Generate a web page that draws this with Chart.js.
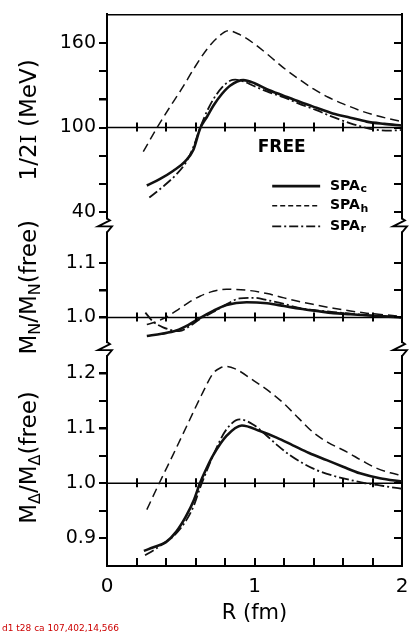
<!DOCTYPE html>
<html><head><meta charset="utf-8">
<script src="https://cdn.jsdelivr.net/npm/chart.js@4.4.0/dist/chart.umd.min.js"></script>
<style>html,body{margin:0;padding:0;background:#fff;}#wrap{width:409px;height:634px;}</style>
</head><body><div id="wrap"><canvas id="c" width="409" height="634"></canvas></div>
<script>
const errs = [];
window.addEventListener('error', e => errs.push(String(e.message)));
// ---------- data ----------
const xTickLabels = [0, 1, 2];
const xTickStep = 0.2;
const topTickLabels = [40, 100, 160];
const midTickLabels = [1.0, 1.1];
const botTickLabels = [0.9, 1.0, 1.1, 1.2];
const freeLevels = [100, 1.0, 1.0];
const legendNames = ['SPA', 'SPA', 'SPA'];
const legendSubs = ['c', 'h', 'r'];

// panel 1: 1/2I (MeV)
const rCTop = [0.27, 0.36, 0.45, 0.53, 0.585, 0.632, 0.68, 0.723, 0.78, 0.834, 0.924, 1.0, 1.08, 1.2, 1.31, 1.42, 1.53, 1.65, 1.76, 1.88, 2.0];
const vCTop = [58.8, 63.5, 69.3, 76, 84, 99.5, 108, 115.8, 124, 129.7, 133.7, 131.5, 127.4, 122.5, 118.1, 114, 110, 107, 104.2, 102.6, 101.4];
const rHTop = [0.246, 0.34, 0.42, 0.506, 0.59, 0.675, 0.75, 0.823, 0.9, 0.992, 1.1, 1.195, 1.3, 1.4, 1.5, 1.625, 1.73, 1.83, 1.92, 2.0];
const vHTop = [82.8, 100, 113.5, 127.4, 142, 155.3, 164, 168.8, 166, 160, 151, 142.6, 134.5, 127.4, 121.5, 115.8, 111.5, 108.4, 106, 104.2];
const rRTop = [0.287, 0.38, 0.472, 0.54, 0.585, 0.632, 0.68, 0.723, 0.78, 0.834, 0.87, 0.92, 0.992, 1.1, 1.195, 1.3, 1.42, 1.53, 1.65, 1.75, 1.83, 1.92, 2.0];
const vRTop = [50.2, 58, 66.9, 76, 86, 100, 112, 120.4, 128.5, 133.2, 134, 133, 129.7, 125, 121.6, 117, 112.3, 107.5, 103, 100, 98.3, 97.8, 98.3];

// panel 2: M_N / M_N(free)
const rCMid = [0.27, 0.37, 0.47, 0.55, 0.63, 0.72, 0.81, 0.947, 1.085, 1.2, 1.31, 1.42, 1.535, 1.65, 1.76, 1.88, 2.0];
const vCMid = [0.966, 0.970, 0.976, 0.986, 0.999, 1.012, 1.023, 1.028, 1.026, 1.021, 1.016, 1.012, 1.008, 1.006, 1.004, 1.002, 1.0];
const rHMid = [0.27, 0.33, 0.39, 0.48, 0.55, 0.63, 0.72, 0.81, 0.95, 1.085, 1.2, 1.31, 1.42, 1.535, 1.65, 1.76, 1.88, 2.0];
const vHMid = [0.987, 0.992, 0.999, 1.014, 1.027, 1.039, 1.048, 1.052, 1.050, 1.044, 1.036, 1.029, 1.023, 1.017, 1.012, 1.008, 1.005, 1.002];
const rRMid = [0.26, 0.31, 0.38, 0.49, 0.56, 0.63, 0.72, 0.81, 0.9, 1.0, 1.085, 1.2, 1.31, 1.42, 1.535, 1.65, 1.76, 1.88, 2.0];
const vRMid = [1.009, 0.993, 0.982, 0.975, 0.984, 0.997, 1.01, 1.024, 1.035, 1.036, 1.032, 1.025, 1.017, 1.013, 1.01, 1.007, 1.004, 1.002, 1.0];

// panel 3: M_Delta / M_Delta(free)
const rCBot = [0.25, 0.32, 0.40, 0.47, 0.536, 0.59, 0.63, 0.68, 0.72, 0.81, 0.914, 1.037, 1.15, 1.26, 1.37, 1.49, 1.6, 1.715, 1.85, 2.0];
const vCBot = [0.877, 0.884, 0.893, 0.912, 0.94, 0.97, 1.0, 1.03, 1.051, 1.086, 1.105, 1.095, 1.083, 1.069, 1.055, 1.042, 1.03, 1.018, 1.009, 1.003];
const rHBot = [0.27, 0.354, 0.45, 0.551, 0.64, 0.72, 0.77, 0.81, 0.87, 0.99, 1.1, 1.195, 1.3, 1.4, 1.5, 1.625, 1.73, 1.83, 1.92, 2.0];
const vHBot = [0.952, 1.0, 1.053, 1.110, 1.16, 1.2, 1.21, 1.2125, 1.208, 1.1875, 1.167, 1.146, 1.118, 1.092, 1.074, 1.057, 1.041, 1.027, 1.019, 1.014];
const rRBot = [0.258, 0.32, 0.38, 0.46, 0.536, 0.59, 0.63, 0.68, 0.72, 0.81, 0.9, 0.99, 1.085, 1.16, 1.24, 1.33, 1.42, 1.53, 1.65, 1.75, 1.83, 1.92, 2.0];
const vRBot = [0.869, 0.879, 0.89, 0.906, 0.932, 0.96, 0.991, 1.025, 1.051, 1.098, 1.116, 1.107, 1.086, 1.068, 1.051, 1.036, 1.024, 1.014, 1.006, 1.0, 0.997, 0.993, 0.99];

// ---------- styles ----------
const FONT = 'DejaVu Sans';
const INK = '#111';
const styleC = {borderWidth: 2.6, borderDash: []};
const styleH = {borderWidth: 1.5, borderDash: [9, 5]};
const styleR = {borderWidth: 1.8, borderDash: [10, 3, 2, 3]};
const panelTicks = [
  {id: 'yTop', step: 20, lo: 40, hi: 160},
  {id: 'yMid', step: 0.05, lo: 1.0, hi: 1.1},
  {id: 'yBot', step: 0.05, lo: 0.9, hi: 1.2}
];

function pts(r, v) { return r.map((x, i) => ({x: x, y: v[i]})); }
function ds(r, v, st, yid) {
  return Object.assign({
    type: 'line', data: pts(r, v), yAxisID: yid, xAxisID: 'x',
    borderColor: INK, pointRadius: 0, fill: false, cubicInterpolationMode: 'monotone'
  }, st);
}
const near = (a, b) => Math.abs(a - b) < 1e-6;

function leftAxis(min, max, weight, step, lo, hi, labels, digits) {
  return {
    type: 'linear', position: 'left', stack: 'L', stackWeight: weight, min: min, max: max,
    ticks: {
      stepSize: step, includeBounds: false, autoSkip: false, padding: 3, color: '#000',
      font: {family: FONT, size: 19},
      callback: (v) => labels.some(l => near(l, v)) ? v.toFixed(digits) : ''
    },
    afterBuildTicks: s => { s.ticks = s.ticks.filter(t => t.value >= lo - 1e-9 && t.value <= hi + 1e-9); },
    grid: {drawOnChartArea: false, drawTicks: true, tickLength: 8, color: '#000', lineWidth: 1.5},
    border: {display: true, color: '#000', width: 2},
    afterFit: s => { s.width = 107; }
  };
}
function rightAxis(min, max, weight) {
  return {
    type: 'linear', position: 'right', stack: 'R', stackWeight: weight, min: min, max: max,
    ticks: {display: false},
    grid: {display: false},
    border: {display: true, color: '#000', width: 2},
    afterFit: s => { s.width = 7; }
  };
}

const panelTitles = {
  yTop: [{t: '1/2'}, {t: 'I', serif: true}, {t: ' (MeV)'}],
  yMid: [{t: 'M'}, {t: 'N', sub: true}, {t: '/M'}, {t: 'N', sub: true}, {t: '(free)'}],
  yBot: [{t: 'M'}, {t: 'Δ', sub: true}, {t: '/M'}, {t: 'Δ', sub: true}, {t: '(free)'}]
};

function seg(ctx, x1, y1, x2, y2) { ctx.beginPath(); ctx.moveTo(x1, y1); ctx.lineTo(x2, y2); ctx.stroke(); }
let drawCount = 0, tickCount = 0;

const decor = {
  id: 'decor',
  beforeDatasetsDraw(chart) {
    const ctx = chart.ctx, ca = chart.chartArea;
    ctx.save();
    ctx.setLineDash([]);
    ctx.strokeStyle = '#000'; ctx.lineWidth = 1.5;
    ['yTop', 'yMid', 'yBot'].forEach((id, k) => {
      const y = chart.scales[id].getPixelForValue(freeLevels[k]);
      seg(ctx, ca.left, y, ca.right, y);
    });
    ctx.restore();
  },
  afterDraw(chart) {
    drawCount++;
    const ctx = chart.ctx, ca = chart.chartArea, xs = chart.scales.x;
    const sT = chart.scales.yTop, sM = chart.scales.yMid;
    ctx.save();
    ctx.setLineDash([]);
    // tick marks
    try {
      ctx.fillStyle = '#000';
      const nX = Math.round((xs.max - xs.min) / xTickStep);
      for (let k = 0; k <= nX; k++) {
        const px = Math.round(xs.getPixelForValue(xs.min + k * xTickStep));
        ctx.fillRect(px - 1, ca.bottom - 8, 2, 8); tickCount++;
        if (k > 0 && k < nX) {
          ['yTop', 'yMid', 'yBot'].forEach((id, j) => {
            const y = chart.scales[id].getPixelForValue(freeLevels[j]);
            ctx.fillRect(px - 1, y - 5, 2, 9);
          });
        }
      }
      panelTicks.forEach(p => {
        const s = chart.scales[p.id];
        const n = Math.round((p.hi - p.lo) / p.step);
        for (let k = 0; k <= n; k++) {
          const py = Math.round(s.getPixelForValue(p.lo + k * p.step));
          ctx.fillRect(ca.left - 8, py - 1, 8, 2);
          ctx.fillRect(ca.right - 8, py - 1, 8, 2);
          tickCount++;
        }
      });
    } catch (e) { errs.push('ticks: ' + e.message); }
    // axis breaks
    [sT.bottom, sM.bottom].forEach(b => {
      [ca.left, ca.right].forEach(x0 => {
        ctx.fillStyle = '#fff';
        ctx.fillRect(x0 - 3, b - 6, 7, 12);
        ctx.strokeStyle = '#000'; ctx.lineWidth = 1.8; ctx.lineJoin = 'miter';
        ctx.beginPath();
        ctx.moveTo(x0, b - 7); ctx.lineTo(x0 + 3, b - 5); ctx.lineTo(x0 - 9, b + 1);
        ctx.lineTo(x0 + 5, b + 1); ctx.lineTo(x0, b + 7);
        ctx.stroke();
      });
    });
    // y titles with subscripts
    ['yTop', 'yMid', 'yBot'].forEach(id => {
      const s = chart.scales[id];
      const runs = panelTitles[id];
      const fontOf = r => r.sub ? `16px "${FONT}"` : (r.serif ? `23px "DejaVu Serif"` : `23px "${FONT}"`);
      let total = 0;
      const widths = runs.map(r => { ctx.font = fontOf(r); const w = ctx.measureText(r.t).width; total += w; return w; });
      ctx.save();
      ctx.translate(30, (s.top + s.bottom) / 2);
      ctx.rotate(-Math.PI / 2);
      ctx.fillStyle = '#000'; ctx.textBaseline = 'middle'; ctx.textAlign = 'left';
      let x = -total / 2;
      runs.forEach((r, i) => { ctx.font = fontOf(r); ctx.fillText(r.t, x, r.sub ? 6 : 0); x += widths[i]; });
      ctx.restore();
    });
    // FREE label
    ctx.fillStyle = '#000'; ctx.font = `bold 17px "${FONT}"`;
    ctx.textAlign = 'center'; ctx.textBaseline = 'middle';
    ctx.fillText('FREE', xs.getPixelForValue(1.184), sT.getPixelForValue(85.6));
    // legend
    const legDash = [[], [5, 3], [9, 3, 2, 3]];
    const legW = [styleC.borderWidth, styleH.borderWidth, styleR.borderWidth];
    const rowVals = [58.3, 44.4, 29.7];
    const x1 = xs.getPixelForValue(1.12), x2 = xs.getPixelForValue(1.445), xt = xs.getPixelForValue(1.512);
    rowVals.forEach((v, i) => {
      const y = sT.getPixelForValue(v);
      ctx.strokeStyle = INK; ctx.lineWidth = legW[i]; ctx.setLineDash(legDash[i]);
      seg(ctx, x1, y, x2, y);
      ctx.setLineDash([]);
      ctx.textAlign = 'left'; ctx.textBaseline = 'middle'; ctx.fillStyle = '#000';
      ctx.font = `bold 14px "${FONT}"`;
      ctx.fillText(legendNames[i], xt, y);
      const w = ctx.measureText(legendNames[i]).width;
      ctx.font = `bold 11px "${FONT}"`;
      ctx.fillText(legendSubs[i], xt + w + 0.5, y + 3);
    });
    // status line (diagnostic)
    ctx.fillStyle = '#c00'; ctx.font = `9px "${FONT}"`; ctx.textAlign = 'left'; ctx.textBaseline = 'bottom';
    ctx.fillText('d' + drawCount + ' t' + tickCount + ' ca ' + [ca.left, ca.right, ca.top, ca.bottom].map(v => Math.round(v)).join(',') + ' ' + errs.join('|').slice(0, 60), 2, 633);
    ctx.restore();
  }
};

new Chart(document.getElementById('c'), {
  type: 'line',
  data: {
    datasets: [
      ds(rHTop, vHTop, styleH, 'yTop'), ds(rRTop, vRTop, styleR, 'yTop'), ds(rCTop, vCTop, styleC, 'yTop'),
      ds(rHMid, vHMid, styleH, 'yMid'), ds(rRMid, vRMid, styleR, 'yMid'), ds(rCMid, vCMid, styleC, 'yMid'),
      ds(rHBot, vHBot, styleH, 'yBot'), ds(rRBot, vRBot, styleR, 'yBot'), ds(rCBot, vCBot, styleC, 'yBot')
    ]
  },
  options: {
    responsive: false, animation: false, devicePixelRatio: 1,
    layout: {padding: 0, autoPadding: false},
    plugins: {legend: {display: false}, tooltip: {enabled: false}},
    scales: {
      x: {
        type: 'linear', position: 'bottom', min: 0, max: 2,
        ticks: {
          stepSize: xTickStep, autoSkip: false, maxRotation: 0, padding: 0, color: '#000',
          font: {family: FONT, size: 20, lineHeight: 2.9},
          callback: v => xTickLabels.some(l => near(l, v)) ? String(Math.round(v)) : ''
        },
        grid: {drawOnChartArea: false, drawTicks: true, tickLength: -8, color: '#000', lineWidth: 1.5},
        border: {display: true, color: '#000', width: 2},
        title: {display: true, text: 'R (fm)', color: '#000', font: {family: FONT, size: 21}, padding: {top: 0, bottom: 8}},
        afterFit: s => { s.height = 68; }
      },
      xTop: {
        type: 'linear', position: 'top', min: 0, max: 2,
        ticks: {display: false}, grid: {display: false},
        border: {display: true, color: '#000', width: 1.5},
        afterFit: s => { s.height = 4; }
      },
      yBot: leftAxis(0.8495, 1.244, 221, 0.05, 0.9, 1.2, botTickLabels, 1),
      yMid: leftAxis(0.942, 1.169, 126, 0.05, 1.0, 1.1, midTickLabels, 1),
      yTop: leftAxis(30.4, 180.4, 215, 20, 40, 160, topTickLabels, 0),
      rTop: rightAxis(30.4, 180.4, 215),
      rMid: rightAxis(0.942, 1.169, 126),
      rBot: rightAxis(0.8495, 1.244, 221)
    }
  },
  plugins: [decor]
});
</script>
</body></html>
